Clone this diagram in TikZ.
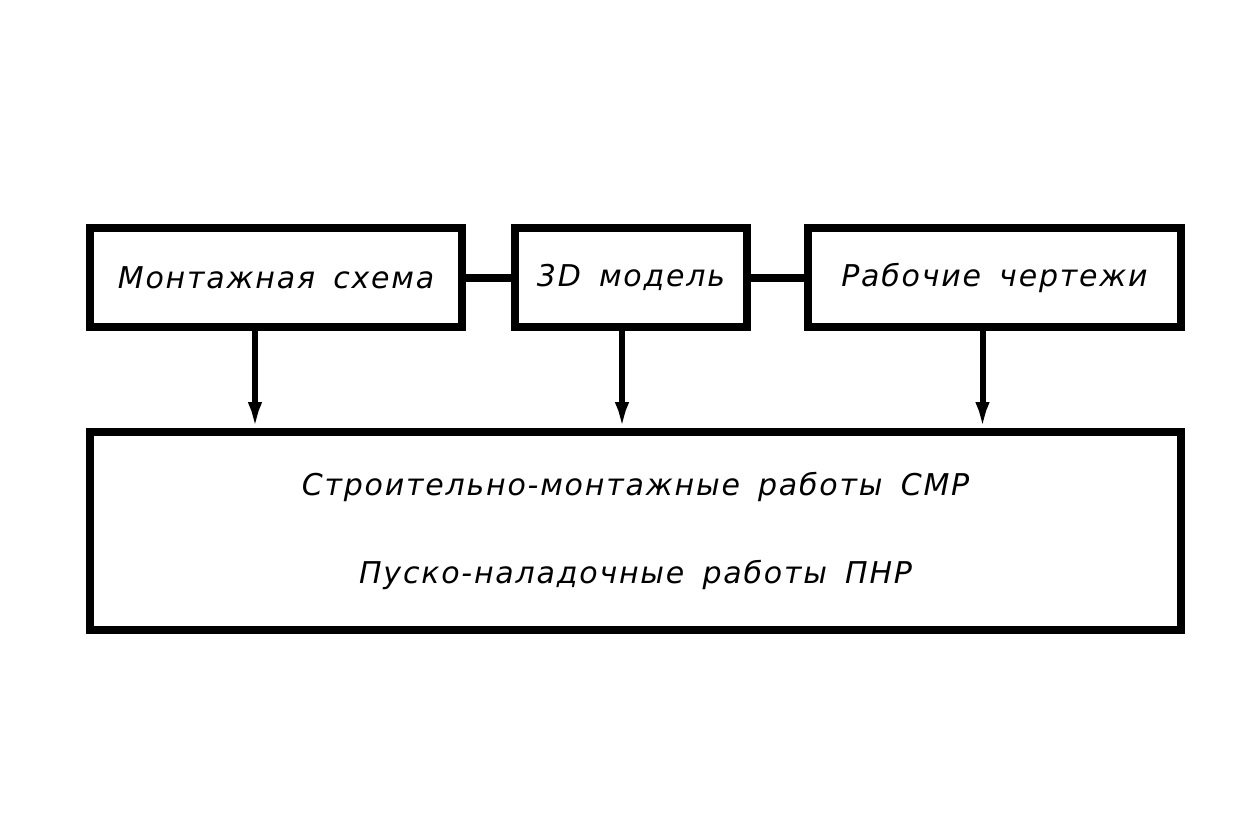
\documentclass[tikz,border=0pt]{standalone}
\usepackage{fontspec}
\setmainfont{DejaVu Sans}[LetterSpace=6,WordSpace=1.6]
\usetikzlibrary{arrows.meta}
\begin{document}
\begin{tikzpicture}
	[x=1pt, y=-1pt,
	block/.style ={rectangle, draw=black, line width=8pt, align=center, font=\fontsize{30}{40}\selectfont\itshape},
	line/.style ={draw, line width=6pt, -{Latex[length=30pt,width=14pt]}, shorten >=-4pt},
	link/.style ={draw, line width=8pt}]
	\useasboundingbox (0,0) rectangle (1239,828);
	\draw (276, 277.5) node[block, minimum width=372pt, minimum height=99pt] (mont) {Монтажная схема};
	\draw (631, 277.5) node[block, minimum width=232pt, minimum height=99pt] (model) {3D модель};
	\draw (994.5, 277.5) node[block, minimum width=373pt, minimum height=99pt] (rab) {Рабочие чертежи};
	\draw (635.5, 531) node[block, minimum width=1091pt, minimum height=198pt] (smr) {Строительно-монтажные работы СМР\\[48pt]Пуско-наладочные работы ПНР};
	\draw[link] (mont) -- (model);
	\draw[link] (model) -- (rab);
	\draw[line] ([xshift=-21pt]mont.south) -- ([xshift=-21pt]mont.south |- smr.north);
	\draw[line] ([xshift=-9pt]model.south) -- ([xshift=-9pt]model.south |- smr.north);
	\draw[line] ([xshift=-12pt]rab.south) -- ([xshift=-12pt]rab.south |- smr.north);
\end{tikzpicture}
\end{document}
